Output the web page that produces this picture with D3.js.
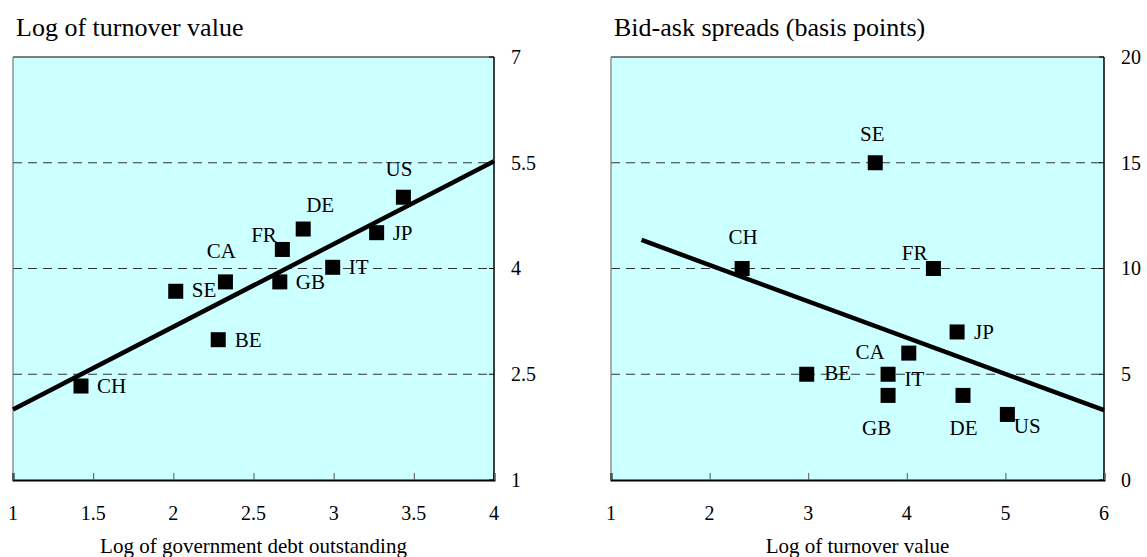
<!DOCTYPE html>
<html>
<head>
<meta charset="utf-8">
<script src="https://cdn.jsdelivr.net/npm/d3@7"></script>
<style>
  body { margin: 0; background: #fff; }
  svg text { font-family: "Liberation Serif", "Times New Roman", serif; fill: #000; }
  .panel-title { font-size: 26px; }
  .tick-label { font-size: 20px; }
  .axis-title { font-size: 21px; }
  .point-label { font-size: 21px; }
</style>
</head>
<body>
<svg id="chart" width="1147" height="557"></svg>
<script>
// country codes, same order in every array below
const countries = ['BE', 'CA', 'CH', 'DE', 'FR', 'GB', 'IT', 'JP', 'SE', 'US'];

// left panel: log of government debt outstanding vs log of turnover value
const debtLog     = [2.28, 2.325, 1.424, 2.81, 2.68, 2.664, 2.994, 3.268, 2.015, 3.435];
const turnoverLog = [2.99, 3.81, 2.333, 4.56, 4.27, 3.81, 4.017, 4.508, 3.677, 5.011];
const leftFit = [[1, 2.0], [4, 5.52]]; // fitted line end points
const leftXTicks = [1, 1.5, 2, 2.5, 3, 3.5, 4];
const leftYTicks = [1, 2.5, 4, 5.5, 7];

// right panel: log of turnover value vs bid-ask spreads (basis points)
const turnoverLogB = [2.985, 4.02, 2.33, 4.57, 4.27, 3.81, 3.81, 4.51, 3.68, 5.02];
const spreadBp     = [5, 6, 10, 4, 10, 4, 5, 7, 15, 3.1];
const rightFit = [[1.31, 11.35], [6, 3.3]];
const rightXTicks = [1, 2, 3, 4, 5, 6];
const rightYTicks = [0, 5, 10, 15, 20];

// where each country label sits relative to its square (anchor, dx, dy)
const leftPlacement = {
  CH: ['start', 16, 7], SE: ['start', 16, 6], BE: ['start', 16.5, 7],
  GB: ['start', 16, 7], IT: ['start', 16, 7], JP: ['start', 16, 7],
  CA: ['middle', -4, -24], FR: ['end', -5.5, -7.5], DE: ['middle', 17, -17],
  US: ['middle', -4.5, -21.5]
};
const rightPlacement = {
  SE: ['middle', -3, -22], CH: ['middle', 1, -25], FR: ['end', -6, -8.5],
  JP: ['start', 17, 7], CA: ['end', -24, 6], BE: ['start', 17.5, 6],
  IT: ['start', 16.5, 11.5], GB: ['middle', -11.5, 40], DE: ['middle', 0.5, 40],
  US: ['start', 6.5, 19]
};

class ScatterPanel {
  constructor (svg, opts) {
    this.svg = svg;
    this.opts = opts;

    this.x = d3.scaleLinear()
      .domain(opts.xDomain)
      .range([opts.left, opts.right]);
    this.y = d3.scaleLinear()
      .domain(opts.yDomain)
      .range([opts.bottom, opts.top]);

    this.draw();
  }

  draw () {
    var _this = this;
    var o = this.opts;
    var g = this.svg.append('g');

    // plot background
    g.append('rect')
      .attr('x', o.left)
      .attr('y', o.top)
      .attr('width', o.right - o.left)
      .attr('height', o.bottom - o.top)
      .attr('fill', '#ccffff');

    // dashed horizontal grid lines (inner ticks only)
    let inner = o.yTicks.slice(1, -1);
    g.selectAll('.grid')
      .data(inner)
      .join('line')
        .attr('class', 'grid')
        .attr('x1', o.left)
        .attr('x2', o.right)
        .attr('y1', d => this.y(d))
        .attr('y2', d => this.y(d))
        .attr('stroke', '#333')
        .attr('stroke-width', 1)
        .attr('stroke-dasharray', '9,6');

    // frame
    g.append('line').attr('x1', o.left).attr('x2', o.right).attr('y1', o.top).attr('y2', o.top)
      .attr('stroke', '#000').attr('stroke-width', 1.2);
    g.append('line').attr('x1', o.left).attr('x2', o.left).attr('y1', o.top).attr('y2', o.bottom)
      .attr('stroke', '#777').attr('stroke-width', 1.2);
    g.append('line').attr('x1', o.right).attr('x2', o.right).attr('y1', o.top).attr('y2', o.bottom)
      .attr('stroke', '#000').attr('stroke-width', 1.5);

    // bottom axis: ticks pointing up, labels below
    let xAxis = (sel) => sel
      .attr('transform', 'translate(0,' + o.bottom + ')')
      .call(d3.axisTop(_this.x)
        .tickValues(o.xTicks)
        .tickSize(7)
        .tickFormat(''));
    let xa = g.append('g').call(xAxis);
    xa.select('.domain').attr('stroke', '#000').attr('stroke-width', 2);
    xa.selectAll('.tick line').attr('stroke', '#555');

    g.selectAll('.x-label')
      .data(o.xTicks)
      .join('text')
        .attr('class', 'tick-label')
        .attr('x', d => this.x(d))
        .attr('y', 520)
        .attr('text-anchor', 'middle')
        .text(d => d);

    // right axis: small inner ticks, labels on the outside
    g.selectAll('.y-tick')
      .data(o.yTicks)
      .join('line')
        .attr('x1', o.right - 5)
        .attr('x2', o.right)
        .attr('y1', d => this.y(d))
        .attr('y2', d => this.y(d))
        .attr('stroke', '#000');

    g.selectAll('.y-label')
      .data(o.yTicks)
      .join('text')
        .attr('class', 'tick-label')
        .attr('x', o.right + 17)
        .attr('y', d => this.y(d))
        .attr('dy', '0.34em')
        .text(d => d);

    // fitted line
    g.append('line')
      .attr('x1', this.x(o.fit[0][0]))
      .attr('y1', this.y(o.fit[0][1]))
      .attr('x2', this.x(o.fit[1][0]))
      .attr('y2', this.y(o.fit[1][1]))
      .attr('stroke', '#000')
      .attr('stroke-width', 4.5);

    // points
    let pts = o.names.map((n, i) => ({ name: n, xv: o.xs[i], yv: o.ys[i] }));
    let size = 15;
    g.selectAll('.pt')
      .data(pts)
      .join('rect')
        .attr('class', 'pt')
        .attr('x', d => this.x(d.xv) - size / 2)
        .attr('y', d => this.y(d.yv) - size / 2)
        .attr('width', size)
        .attr('height', size)
        .attr('fill', '#000');

    g.selectAll('.point-label')
      .data(pts)
      .join('text')
        .attr('class', 'point-label')
        .attr('x', d => this.x(d.xv) + o.placement[d.name][1])
        .attr('y', d => this.y(d.yv) + o.placement[d.name][2])
        .attr('text-anchor', d => o.placement[d.name][0])
        .text(d => d.name);

    // titles
    g.append('text')
      .attr('class', 'panel-title')
      .attr('x', o.left + 3)
      .attr('y', 36)
      .text(o.title);

    g.append('text')
      .attr('class', 'axis-title')
      .attr('x', (o.left + o.right) / 2)
      .attr('y', 553)
      .attr('text-anchor', 'middle')
      .text(o.xTitle);
  }
}

const svg = d3.select('#chart');

new ScatterPanel(svg, {
  left: 13, right: 494, top: 57, bottom: 480,
  xDomain: [1, 4], yDomain: [1, 7],
  xTicks: leftXTicks, yTicks: leftYTicks,
  names: countries, xs: debtLog, ys: turnoverLog,
  fit: leftFit, placement: leftPlacement,
  title: 'Log of turnover value',
  xTitle: 'Log of government debt outstanding'
});

new ScatterPanel(svg, {
  left: 611, right: 1104, top: 57, bottom: 480,
  xDomain: [1, 6], yDomain: [0, 20],
  xTicks: rightXTicks, yTicks: rightYTicks,
  names: countries, xs: turnoverLogB, ys: spreadBp,
  fit: rightFit, placement: rightPlacement,
  title: 'Bid-ask spreads (basis points)',
  xTitle: 'Log of turnover value'
});
</script>
</body>
</html>
